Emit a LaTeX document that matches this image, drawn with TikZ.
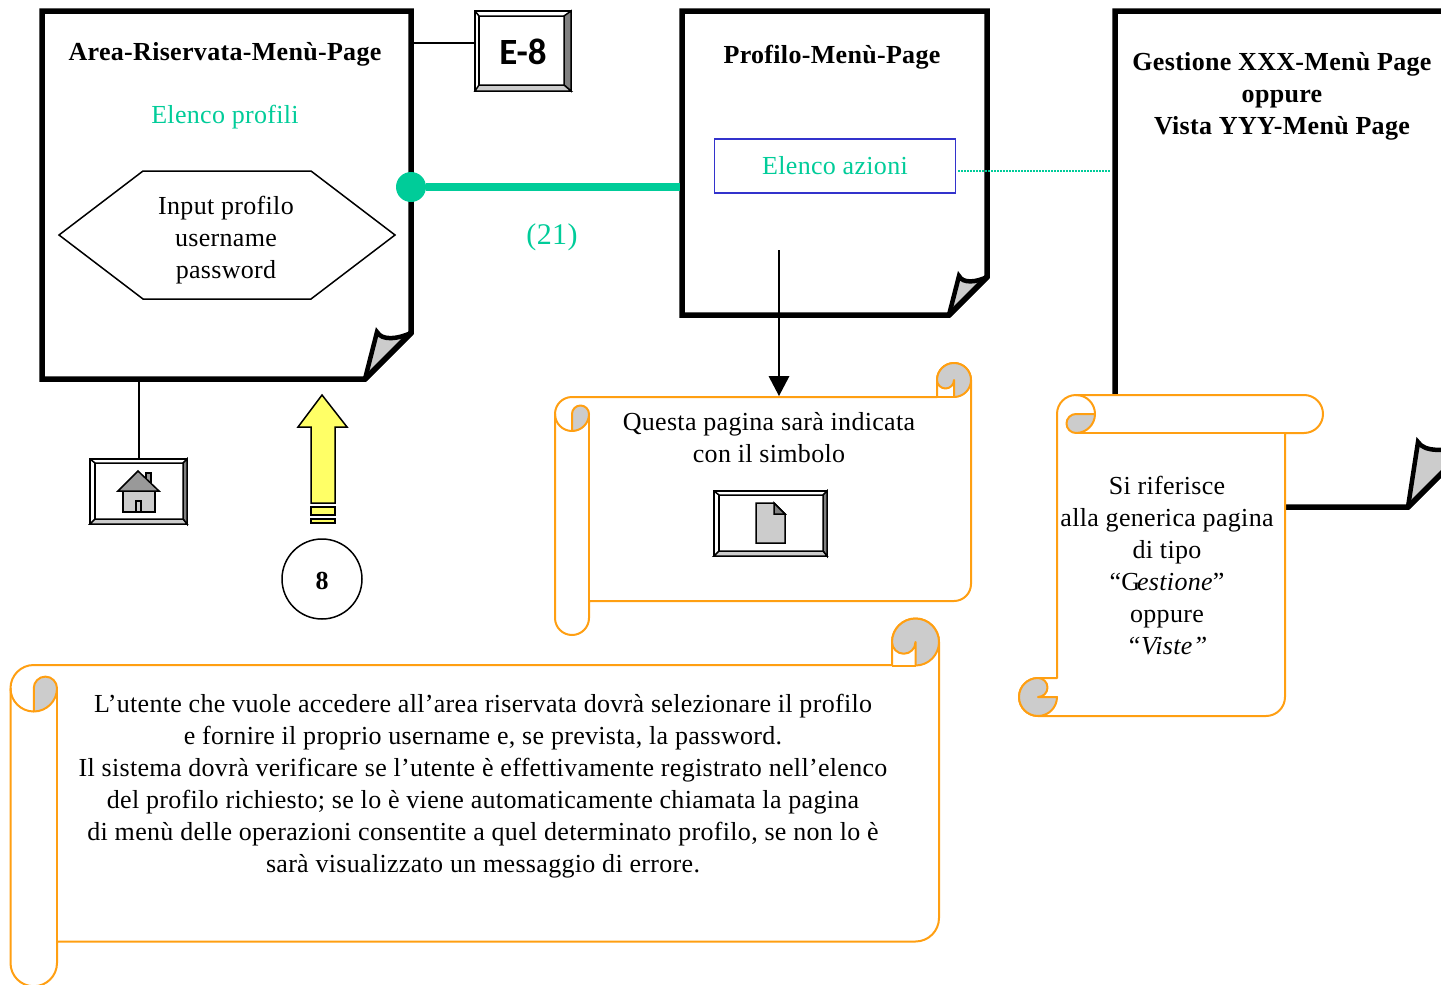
\documentclass[tikz,border=0pt]{standalone}
\usepackage{xcolor}
\usepackage{fontspec}
\setmainfont{Liberation Serif}[LetterSpace=1.2]
\newfontfamily\bottonefont{Carlito}
\usepackage{tikz}

\definecolor{verde}{HTML}{00CC99}
\definecolor{arancio}{HTML}{FF9F12}
\definecolor{grigio}{HTML}{CCCCCC}
\definecolor{giallo}{HTML}{FFFF66}
\definecolor{blu}{HTML}{3333CC}

\tikzset{
  foglio/.style={draw=black, fill=white, line width=5.5pt},
  piega/.style={draw=black, line width=4.5pt, miter limit=10},
  bordo/.style={draw=black, line width=5.5pt, line cap=round},
  rotolo/.style={draw=arancio, fill=white, line width=2pt, line join=round},
  ricciolo/.style={draw=arancio, fill=grigio, line width=2pt, line join=round},
  linea/.style={draw=arancio, line width=2pt},
  testo/.style={align=center, inner sep=0pt, font=\fontsize{26}{32}\selectfont},
  titolo/.style={align=center, inner sep=0pt, font=\fontsize{26}{32}\selectfont\bfseries},
  verdetesto/.style={testo, text=verde},
  bottone/.style={draw=black, fill=white, line width=2pt, inner sep=0pt},
  smusso/.style={draw=black, line width=1.5pt}
}

\begin{document}
\begin{tikzpicture}[x=1pt, y=-1pt]

        \clip (0,0) rectangle (1441,985);

        % Foglio Area-Riservata
        \draw[foglio] (42,11) -- (411,11) -- (411,333) -- (365,379) -- (42,379) -- cycle;
        \fill[grigio] (365,379) -- (377,332) .. controls (382,341) and (398,339) .. (411,333) -- cycle;
        \draw[piega] (411,333) .. controls (398,339) and (382,341) .. (377,332) -- (365,379);
        \draw[bordo] (411,333) -- (365,379);
        \coordinate (A1) at (411,43);
        \coordinate (A2) at (139,379);

        % Foglio Profilo
        \draw[foglio] (682,11) -- (987,11) -- (987,277) -- (949,315) -- (682,315) -- cycle;
        \fill[grigio] (949,315) -- (959,276) .. controls (963,284) and (977,282) .. (987,277) -- cycle;
        \draw[piega] (987,277) .. controls (977,282) and (963,284) .. (959,276) -- (949,315);
        \draw[bordo] (987,277) -- (949,315);
        \coordinate (B1) at (680,187);
        \coordinate (B2) at (779,250);

        % Foglio Gestione
        \draw[foglio] (1115,11) -- (1470,11) -- (1470,445) -- (1408,507) -- (1115,507) -- cycle;
        \fill[grigio] (1408,507) -- (1418,442) .. controls (1424,452) and (1445,452) .. (1470,445) -- cycle;
        \draw[piega] (1470,445) .. controls (1445,452) and (1424,452) .. (1418,442) -- (1408,507);
        \draw[bordo] (1470,445) -- (1408,507);
        \coordinate (C1) at (1111,171);

        % Testi dei fogli
        \node[titolo] (areaTitolo) at (225,54) {Area-Riservata-Menù-Page};
        \node[verdetesto] (elencoProfili) at (225,117) {Elenco profili};
        \node[titolo] (profiloTitolo) at (832,57) {Profilo-Menù-Page};
        \node[titolo] (gestioneTitolo) at (1282,96) {Gestione XXX-Menù Page\\oppure\\Vista YYY-Menù Page};

        % Esagono di input
        \draw[line width=1.5pt, fill=white] (59,235) -- (143,171) -- (311,171) -- (395,235) -- (311,299) -- (143,299) -- cycle;
        \node[testo] (inputProfilo) at (226,240) {Input profilo\\username\\password};

        % Elenco azioni
        \node[draw=blu, line width=1.5pt, minimum width=241pt, minimum height=54pt, text=verde, inner sep=0pt, font=\fontsize{26}{32}\selectfont] (elencoAzioni) at (835,166) {Elenco azioni};
        \draw[verde, line width=1.5pt, dash pattern=on 1.5pt off 1.5pt] ([xshift=2pt]elencoAzioni.east |- C1) -- (C1);

        % Collegamento verde
        \node[circle, fill=verde, minimum size=30pt, inner sep=0pt] (pallino) at (411,187) {};
        \draw[verde, line width=8pt] (pallino) -- (B1);
        \node[verdetesto, font=\fontsize{30}{32}\selectfont] (etichetta) at (552,237) {(21)};

        % Bottone E-8
        \node[bottone, minimum width=96pt, minimum height=80pt, font=\fontsize{37}{40}\selectfont\bottonefont\bfseries] (E8) at (523,51) {\rule{0pt}{27.5pt}E-8};
        \draw[smusso, fill=gray] (571,11) -- (571,91) -- (564,85) -- (564,16) -- cycle;
        \draw[smusso, fill=grigio] (475,91) -- (571,91) -- (564,85) -- (479,85) -- cycle;
        \draw[smusso] (475,11) -- (479,16) -- (564,16);
        \draw[smusso] (479,16) -- (479,85);
        \draw[line width=1.5pt] (A1) -- (E8.west |- A1);

        % Bottone home
        \node[bottone, minimum width=97pt, minimum height=65pt] (home) at (138.5,491.5) {};
        \draw[smusso, fill=gray] (187,459) -- (187,524) -- (183,519) -- (183,463) -- cycle;
        \draw[smusso, fill=grigio] (90,524) -- (187,524) -- (183,519) -- (95,519) -- cycle;
        \draw[smusso] (90,459) -- (95,463) -- (183,463);
        \draw[smusso] (95,463) -- (95,519);
        \draw[line width=1.5pt] (A2) -- (home.north -| A2);
        \draw[line width=1.5pt, fill=gray!80] (146,473) rectangle (151,483);
        \draw[line width=1.5pt, fill=grigio] (123,491) rectangle (155,512);
        \draw[line width=1.5pt, fill=gray!80] (138,471) -- (159,491) -- (118,491) -- cycle;
        \draw[line width=1.5pt, fill=grigio] (136,501) rectangle (141,512);

        % Freccia gialla
        \draw[line width=1.5pt, fill=giallo] (322,395) -- (347,427) -- (335,427) -- (335,503) -- (311,503) -- (311,427) -- (298,427) -- cycle;
        \draw[line width=1.5pt, fill=giallo] (311,507) rectangle (335,515);
        \draw[line width=1.5pt, fill=giallo] (311,519) rectangle (335,523);
        \node[circle, draw, line width=1.5pt, minimum size=80pt, inner sep=0pt, font=\fontsize{26}{32}\selectfont\bfseries] (otto) at (322,579) {\rule{0pt}{21.5pt}8};

        % Rotolo in alto
        \draw[rotolo] (555,414) arc[start angle=180, end angle=270, radius=17] -- (937,397) -- (937,380) arc[start angle=180, end angle=360, radius=17] -- (971,584) arc[start angle=0, end angle=90, radius=17] -- (589,601) -- (589,618) arc[start angle=0, end angle=180, radius=17] -- cycle;
        \draw[ricciolo] (937,380) arc[start angle=180, end angle=450, radius=17] -- (954,380) arc[start angle=0, end angle=180, radius=8.5] -- cycle;
        \draw[linea] (937,397) -- (954,397);
        \draw[linea] (555,414) arc[start angle=180, end angle=90, radius=17];
        \draw[ricciolo] (572,431) arc[start angle=90, end angle=0, radius=17] arc[start angle=0, end angle=-180, radius=8.5] -- cycle;
        \draw[linea] (589,414) -- (589,601);
        \coordinate (R1) at (779,396);
        \draw[line width=1.5pt] (B2) -- (779,378);
        \fill[black] (R1) -- (768.5,376) -- (789.5,376) -- cycle;
        \node[testo] (questa) at (769,438) {Questa pagina sarà indicata\\con il simbolo};

        % Bottone documento
        \node[bottone, minimum width=113pt, minimum height=65pt] (documento) at (770.5,523.5) {};
        \draw[smusso, fill=gray] (827,491) -- (827,556) -- (823,551) -- (823,495) -- cycle;
        \draw[smusso, fill=grigio] (714,556) -- (827,556) -- (823,551) -- (719,551) -- cycle;
        \draw[smusso] (714,491) -- (719,495) -- (823,495);
        \draw[smusso] (719,495) -- (719,551);
        \draw[line width=1.5pt, fill=grigio] (756,503) -- (774,503) -- (785,514) -- (785,543) -- (756,543) -- cycle;
        \draw[line width=1.5pt, fill=gray] (774,503) -- (785,514) -- (774,514) -- cycle;

        % Rotolo a destra
        \draw[rotolo] (1057,414) arc[start angle=180, end angle=270, radius=19] -- (1304,395) arc[start angle=270, end angle=450, radius=19] -- (1285,433) -- (1285,697) arc[start angle=0, end angle=90, radius=19] -- (1038,716) arc[start angle=90, end angle=270, radius=19] -- (1057,678) -- cycle;
        \draw[linea] (1076,395) arc[start angle=270, end angle=360, radius=19];
        \draw[ricciolo] (1076,414) -- (1095,414) arc[start angle=0, end angle=90, radius=19] arc[start angle=90, end angle=270, radius=9.5] -- cycle;
        \draw[linea] (1076,433) -- (1285,433);
        \draw[ricciolo] (1057,697) arc[start angle=0, end angle=270, radius=19] arc[start angle=270, end angle=450, radius=9.5] -- cycle;
        \node[testo] (riferisce) at (1167,566) {Si riferisce\\alla generica pagina\\di tipo\\“G\hspace{-3pt}\textit{estione}”\\oppure\\\textit{“Viste”}};

        % Rotolo grande
        \draw[rotolo] (10.5,688.25) arc[start angle=180, end angle=270, radius=23.25] -- (892,665) -- (892,642) arc[start angle=180, end angle=360, radius=23.5] -- (939,918) arc[start angle=0, end angle=90, radius=23.5] -- (57,941.5) -- (57,963) arc[start angle=0, end angle=180, radius=23.25] -- cycle;
        \draw[ricciolo] (892,642) arc[start angle=180, end angle=450, radius=23.5] -- (915.5,642) arc[start angle=0, end angle=180, radius=11.75] -- cycle;
        \draw[linea] (892,665.5) -- (915.5,665.5);
        \draw[linea] (10.5,688.25) arc[start angle=180, end angle=90, radius=23.25];
        \draw[ricciolo] (33.75,711.5) arc[start angle=90, end angle=0, radius=23.25] arc[start angle=0, end angle=-180, radius=11.625] -- cycle;
        \draw[linea] (57,688.25) -- (57,941.5);
        \node[testo] (utente) at (483,786) {L’utente che vuole accedere all’area riservata dovrà selezionare il profilo\\e fornire il proprio username e, se prevista, la password.\\Il sistema dovrà verificare se l’utente è effettivamente registrato nell’elenco\\del profilo richiesto; se lo è viene automaticamente chiamata la pagina\\di menù delle operazioni consentite a quel determinato profilo, se non lo è\\sarà visualizzato un messaggio di errore.};

    \end{tikzpicture}
\end{document}
